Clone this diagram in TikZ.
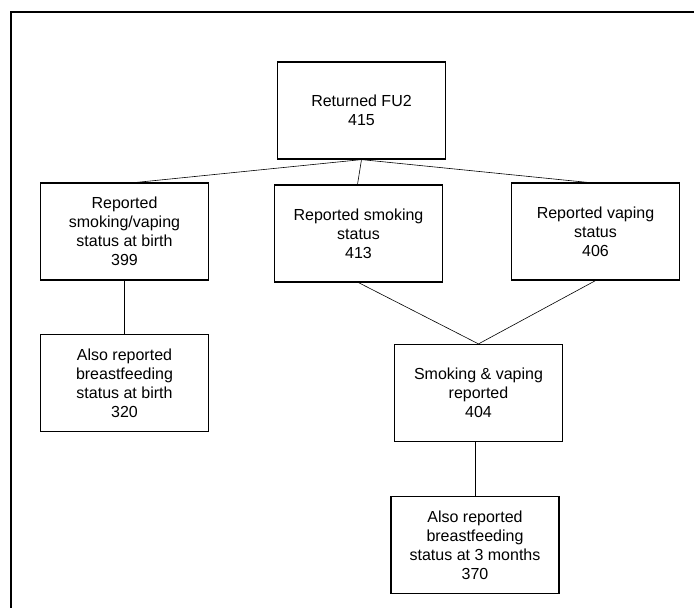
\documentclass[tikz,border=0pt]{standalone}
\usepackage{fontspec}
\setmainfont{Liberation Sans}
\begin{document}
\begin{tikzpicture}[x=1pt,y=-1pt]
\tikzstyle{box}=[draw,line width=1.2pt,minimum width=168pt,minimum height=97pt,align=center,inner sep=2pt,font=\fontsize{16}{19}\selectfont]
\tikzstyle{link}=[line width=0.6pt]
\useasboundingbox (0,0) rectangle (694,608);
% outer frame
\draw[line width=1.3pt] (11,608) -- (11,12) -- (694,12);
% boxes
\node[box] (fu2) at (361.5,110.5) {Returned FU2\\415};
\node[box] (birth) at (124.5,231.5) {Reported\\smoking/vaping\\status at birth\\399};
\node[box] (smoke) at (358.5,233.5) {Reported smoking\\status\\413};
\node[box] (vape) at (595.5,231.5) {Reported vaping\\status\\406};
\node[box] (bfbirth) at (124.5,383) {Also reported\\breastfeeding\\status at birth\\320};
\node[box] (both) at (478.5,393) {Smoking \& vaping\\reported\\404};
\node[box] (bfthree) at (475,545) {Also reported\\breastfeeding\\status at 3 months\\370};
% connectors
\draw[link] (fu2.south) -- ([xshift=12pt]birth.north);
\draw[link] (fu2.south) -- ([xshift=-1pt]smoke.north);
\draw[link] (fu2.south) -- ([xshift=-8pt]vape.north);
\draw[link] (birth.south) -- (bfbirth.north);
\draw[link] (smoke.south) -- (both.north);
\draw[link] (vape.south) -- (both.north);
\draw[link] ([xshift=-3.5pt]both.south) -- (bfthree.north);
\end{tikzpicture}
\end{document}
